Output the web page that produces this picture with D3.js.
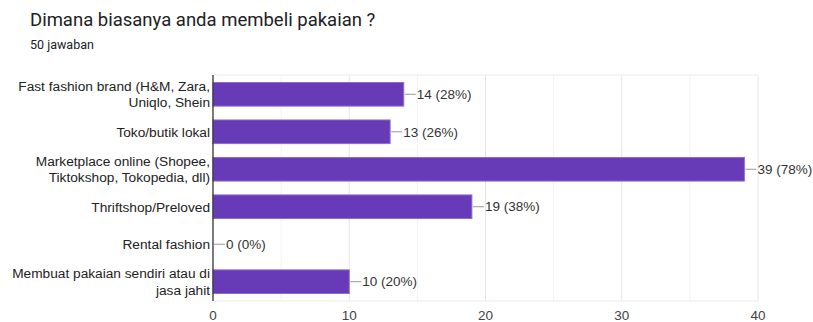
<!DOCTYPE html>
<html>
<head>
<meta charset="utf-8">
<script src="https://cdn.jsdelivr.net/npm/d3@7"></script>
<style>
  body { margin: 0; background: #fff; font-family: Roboto, Arial, sans-serif; }
  .chart-text { font-family: "Liberation Sans", Arial, sans-serif; }
</style>
</head>
<body>
<svg id="chart" width="813" height="322"></svg>
<script>
// Daten
const categories = [
    ['Fast fashion brand (H&M, Zara,', 'Uniqlo, Shein'],
    ['Toko/butik lokal'],
    ['Marketplace online (Shopee,', 'Tiktokshop, Tokopedia, dll)'],
    ['Thriftshop/Preloved'],
    ['Rental fashion'],
    ['Membuat pakaian sendiri atau di', 'jasa jahit']
];
const counts = [14, 13, 39, 19, 0, 10];
const percents = ['28%', '26%', '78%', '38%', '0%', '20%'];
const xTicks = [0, 10, 20, 30, 40];
const minorTicks = [5, 15, 25, 35];

const svg = d3.select('#chart');
const margin = { top: 75, right: 55, bottom: 21, left: 213 };
const width = 813 - margin.left - margin.right;
const height = 322 - margin.top - margin.bottom;

// Titel
svg.append('text')
    .attr('x', 30).attr('y', 26)
    .style('font-family', 'Roboto, Arial, sans-serif')
    .style('font-size', '18.5px')
    .style('fill', '#202124')
    .text('Dimana biasanya anda membeli pakaian ?');

svg.append('text')
    .attr('x', 30).attr('y', 49)
    .style('font-family', 'Roboto, Arial, sans-serif')
    .style('font-size', '12.5px')
    .style('fill', '#202124')
    .text('50 jawaban');

const g = svg.append('g')
    .attr('transform', `translate(${margin.left},${margin.top})`);

const idx = d3.range(categories.length);
const yScale = d3.scaleBand()
    .domain(idx)
    .range([0, height])
    .paddingInner(0.37)
    .paddingOuter(0.2);

const xScale = d3.scaleLinear()
    .domain([0, 40])
    .range([0, width]);

// Gitter
g.selectAll('.minor')
    .data(minorTicks)
    .enter()
    .append('line')
    .attr('x1', d => xScale(d)).attr('x2', d => xScale(d))
    .attr('y1', 0).attr('y2', height)
    .style('stroke', '#f3f3f3');

g.selectAll('.major')
    .data(xTicks.slice(1))
    .enter()
    .append('line')
    .attr('x1', d => xScale(d)).attr('x2', d => xScale(d))
    .attr('y1', 0).attr('y2', height)
    .style('stroke', '#e6e6e6');

g.append('line')
    .attr('x1', 0).attr('x2', width)
    .attr('y1', 0).attr('y2', 0)
    .style('stroke', '#ebebeb');
g.append('line')
    .attr('x1', 0).attr('x2', width)
    .attr('y1', height).attr('y2', height)
    .style('stroke', '#ebebeb');

// Balken
g.selectAll('.bar')
    .data(counts)
    .enter()
    .append('rect')
    .attr('x', 0)
    .attr('y', (d, i) => yScale(i))
    .attr('width', d => xScale(d))
    .attr('height', yScale.bandwidth())
    .style('fill', '#673ab7')
    .style('stroke', d => d > 0 ? '#8e6bd0' : 'none')
    .style('stroke-width', 1);

// Werte an Balken
const lbl = g.selectAll('.bar-label')
    .data(counts)
    .enter()
    .append('g')
    .attr('transform', (d, i) => `translate(${xScale(d)},${yScale(i) + yScale.bandwidth() / 2})`);

lbl.append('line')
    .attr('x1', 1).attr('x2', 12)
    .attr('y1', 0).attr('y2', 0)
    .style('stroke', '#999');

lbl.append('text')
    .attr('class', 'chart-text')
    .attr('x', 13)
    .attr('dy', '0.35em')
    .style('font-size', '13.5px')
    .style('fill', '#333')
    .text((d, i) => `${d} (${percents[i]})`);

// Y-Achse
g.append('line')
    .attr('x1', 0).attr('x2', 0)
    .attr('y1', 0).attr('y2', height)
    .style('stroke', '#333')
    .style('stroke-width', 1.3);

const yLab = g.selectAll('.y-label')
    .data(categories)
    .enter()
    .append('text')
    .attr('class', 'chart-text')
    .attr('x', -3)
    .attr('y', (d, i) => yScale(i) + yScale.bandwidth() / 2)
    .attr('text-anchor', 'end')
    .style('font-size', '13.7px')
    .style('fill', '#222');

yLab.selectAll('tspan')
    .data(d => d.map((t, k) => ({ t, k, n: d.length })))
    .enter()
    .append('tspan')
    .attr('x', -3)
    .attr('dy', d => d.k === 0 ? `${0.35 - (d.n - 1) * 0.6}em` : '1.2em')
    .text(d => d.t);

// X-Achse
g.selectAll('.x-tick')
    .data(xTicks)
    .enter()
    .append('text')
    .attr('class', 'chart-text')
    .attr('x', d => xScale(d))
    .attr('y', height + 19)
    .attr('text-anchor', 'middle')
    .style('font-size', '13.5px')
    .style('fill', '#444')
    .text(d => d);
</script>
</body>
</html>
